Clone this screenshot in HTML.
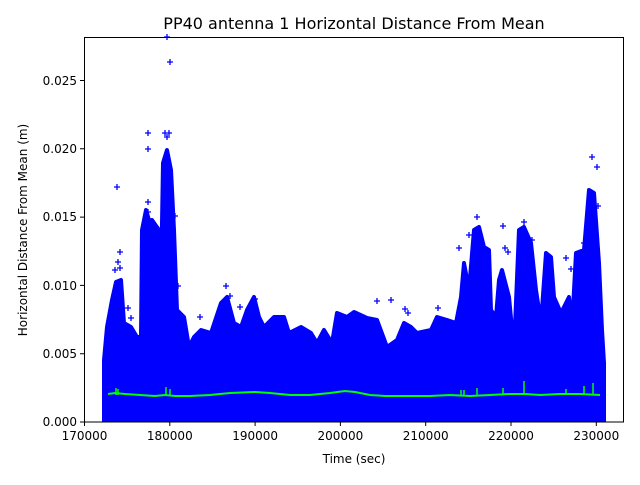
<!DOCTYPE html>
<html><head><meta charset="utf-8"><style>
body{margin:0;background:#fff;font-family:"Liberation Sans","DejaVu Sans",sans-serif}
</style></head><body>
<svg width="640" height="480" viewBox="0 0 640 480" xmlns="http://www.w3.org/2000/svg" font-family="DejaVu Sans, Liberation Sans, sans-serif">
<defs><clipPath id="c"><rect x="84" y="37" width="540" height="385"/></clipPath></defs>
<rect width="640" height="480" fill="#fff"/>
<text x="354" y="29" font-size="16" text-anchor="middle">PP40 antenna 1 Horizontal Distance From Mean</text>
<g clip-path="url(#c)">
<polygon fill="#0000ff" stroke="#0000ff" stroke-width="4" stroke-linejoin="round" points="104,430 104,360 107,327 112,300 116,282 121,280 124,323 131,327 137,337 141,337 142,230 146,210 151,227 152,220 159,230 161,283 163,163 167,150 171,170 174,230 177,310 184,317 189,347 194,337 201,330 211,333 221,303 227,297 234,323 241,327 247,310 254,297 259,317 264,327 274,317 284,317 289,333 301,327 311,333 317,343 324,330 332,343 337,313 347,317 354,312 367,318 377,320 387,347 397,340 404,323 411,327 417,333 431,330 437,317 447,320 456,323 461,297 464,263 469,290 474,230 479,227 484,247 489,250 491,310 496,317 499,280 502,270 509,297 514,350 519,230 524,227 531,243 536,290 541,323 546,253 551,257 554,297 561,313 569,297 572,327 576,253 584,250 589,190 594,193 599,263 602,330 604,363 604,430"/>
</g>
<g stroke="#0000ff" stroke-width="1.3">
<path d="M114,187h6m-3,-3v6 M117,252h6m-3,-3v6 M115,262h6m-3,-3v6 M117,268h6m-3,-3v6 M145,133h6m-3,-3v6 M145,149h6m-3,-3v6 M145,202h6m-3,-3v6 M145,212h6m-3,-3v6 M162,133h6m-3,-3v6 M166,133h6m-3,-3v6 M164,137h6m-3,-3v6 M164,37h6m-3,-3v6 M167,62h6m-3,-3v6 M172,216h6m-3,-3v6 M175,286h6m-3,-3v6 M125,308h6m-3,-3v6 M128,318h6m-3,-3v6 M112,270h6m-3,-3v6 M223,286h6m-3,-3v6 M227,296h6m-3,-3v6 M237,307h6m-3,-3v6 M197,317h6m-3,-3v6 M252,299h6m-3,-3v6 M280,329h6m-3,-3v6 M374,301h6m-3,-3v6 M388,300h6m-3,-3v6 M402,309h6m-3,-3v6 M405,313h6m-3,-3v6 M435,308h6m-3,-3v6 M464,297h6m-3,-3v6 M474,217h6m-3,-3v6 M466,235h6m-3,-3v6 M500,226h6m-3,-3v6 M502,248h6m-3,-3v6 M505,252h6m-3,-3v6 M521,222h6m-3,-3v6 M529,240h6m-3,-3v6 M563,258h6m-3,-3v6 M589,157h6m-3,-3v6 M594,167h6m-3,-3v6 M595,206h6m-3,-3v6 M588,192h6m-3,-3v6 M581,243h6m-3,-3v6 M568,269h6m-3,-3v6 M456,248h6m-3,-3v6 M488,336h6m-3,-3v6"/>
</g>
<polyline fill="none" stroke="#00ff00" stroke-width="2" points="108,394 115,393 125,394 140,395 155,396 165,395 175,396 190,396 210,395 230,393 255,392 270,393 290,395 310,395 330,393 345,391 355,392 370,395 385,396 410,396 430,396 450,395 470,396 490,395 510,394 525,394 540,395 560,394 580,394 600,395"/>
<path d="M116,395v-7 M118,395v-6 M166,395v-8 M170,395v-6 M461,396v-6 M464,396v-6 M477,396v-8 M503,395v-7 M524,394v-13 M566,395v-6 M584,395v-9 M593,395v-12" stroke="#00ff00" stroke-width="1.5"/>
<rect x="84.5" y="37.5" width="539" height="384.5" fill="none" stroke="#000" stroke-width="1"/>
<g stroke="#000" stroke-width="1">
<path d="M84.5,422v4 M169.8,422v4 M255.1,422v4 M340.4,422v4 M425.7,422v4 M511,422v4 M596.3,422v4"/>
<path d="M84,422h-4 M84,353.7h-4 M84,285.4h-4 M84,217.1h-4 M84,148.8h-4 M84,80.5h-4"/>
</g>
<g font-size="12" text-anchor="middle">
<text x="84.5" y="440">170000</text><text x="169.8" y="440">180000</text><text x="255.1" y="440">190000</text><text x="340.4" y="440">200000</text><text x="425.7" y="440">210000</text><text x="511" y="440">220000</text><text x="596.3" y="440">230000</text>
</g>
<g font-size="12" text-anchor="end">
<text x="77" y="426">0.000</text><text x="77" y="358">0.005</text><text x="77" y="290">0.010</text><text x="77" y="221">0.015</text><text x="77" y="153">0.020</text><text x="77" y="85">0.025</text>
</g>
<text x="354" y="463" font-size="12" text-anchor="middle">Time (sec)</text>
<text transform="translate(27,230) rotate(-90)" font-size="12" text-anchor="middle">Horizontal Distance From Mean (m)</text>
</svg>
</body></html>
